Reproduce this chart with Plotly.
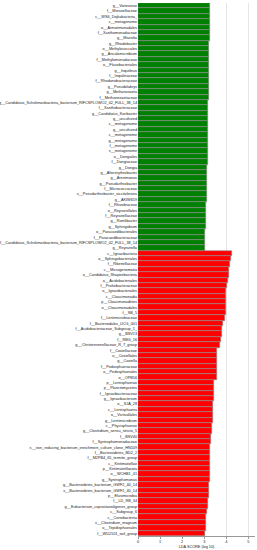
import plotly.graph_objects as go

green_labels = [
    "g__Variovorax", "f__Moraxellaceae", "c__WS6_Dojkabacteria_", "c__metagenome",
    "o__Armatimonadales", "f__Xanthomonadaceae", "g__Massilia", "g__Rhodobacter",
    "o__Methylococcales", "g__Ancalomicrobium", "f__Methylomonadaceae", "o__Flavobacteriales",
    "g__Inquilinus", "f__Inquilinaceae", "f__Rhodanobacteraceae", "g__Pseudolabrys",
    "g__Methanosaeta", "f__Methanosaetaceae",
    "g__Candidatus_Schekmanbacteria_bacterium_RIFCSPLOWO2_02_FULL_38_14",
    "f__Xanthobacteraceae", "g__Candidatus_Koribacter", "g__uncultured", "c__metagenome",
    "g__uncultured", "c__metagenome", "g__metagenome", "f__metagenome", "s__metagenome",
    "o__Dongiales", "f__Dongiaceae", "g__Dongia", "g__Altererythrobacter", "g__Arenimonas",
    "g__Pseudarthrobacter", "f__Micrococcaceae", "s__Pseudarthrobacter_siccitolerans",
    "g__AKIW659", "f__Rhizobiaceae", "o__Reyranellales", "f__Reyranellaceae",
    "g__Ramlibacter", "g__Sphingobium", "o__Paracaedibacterales", "f__Paracaedibacteraceae",
    "f__Candidatus_Schekmanbacteria_bacterium_RIFCSPLOWO2_02_FULL_38_14", "g__Reyranella",
]
green_values = [
    3.27, 3.26, 3.26, 3.25, 3.25, 3.24, 3.24, 3.23, 3.22, 3.22, 3.21, 3.21,
    3.21, 3.21, 3.20, 3.20, 3.20, 3.20, 3.19, 3.19, 3.18, 3.18, 3.17, 3.17,
    3.16, 3.16, 3.16, 3.15, 3.15, 3.15, 3.14, 3.14, 3.14, 3.13, 3.13, 3.13,
    3.12, 3.10, 3.08, 3.08, 3.07, 3.07, 3.02, 3.02, 3.02, 3.02,
]

red_labels = [
    "c__Ignavibacteria", "o__Sphingobacteriales", "f__Rikenellaceae", "c__Microgenomatia",
    "o__Candidatus_Shapirobacteria", "o__Acidobacteriales", "f__Prolixibacteraceae",
    "o__Ignavibacteriales", "c__Cloacimonadia", "p__Cloacimonadetes", "o__Cloacimonadales",
    "f__SB_5", "f__Lentimicrobiaceae", "f__Bacteroidales_UCG_001",
    "f__Acidobacteriaceae_Subgroup_1_", "g__BSV13", "f__RBG_16",
    "g__Christensenellaceae_R_7_group", "f__Coxiellaceae", "o__Coxiellales", "g__Coxiella",
    "f__Pedosphaeraceae", "o__Pedosphaerales", "o__OPB56", "p__Lentisphaerae",
    "p__Planctomycetes", "f__Ignavibacteriaceae", "g__Ignavibacterium", "o__SJA_28",
    "c__Lentisphaeria", "o__Victivallales", "g__Lentimicrobium", "c__Phycisphaerae",
    "g__Clostridium_sensu_stricto_5", "f__BSV40", "f__Syntrophomonadaceae",
    "s__iron_reducing_bacterium_enrichment_culture_clone_HN109", "f__Bacteroidetes_BD2_2",
    "f__M2PB4_65_termite_group", "c__Kiritimatiellae", "p__Kiritimatiellaeota",
    "o__WCHB1_41", "g__Syntrophomonas", "g__Bacteroidetes_bacterium_GWF2_40_14",
    "s__Bacteroidetes_bacterium_GWF2_40_14", "p__Elusimicrobia", "f__LD_RB_34",
    "g__Eubacterium_coprostanoligenes_group", "c__Subgroup_6", "c__Coriobacteriia",
    "s__Clostridium_magnum", "o__Tepidisphaerales", "f__WD2101_soil_group",
]
red_values = [
    4.28, 4.22, 4.17, 4.13, 4.10, 4.08, 4.02, 4.00, 3.99, 3.99, 3.99, 3.98, 3.94,
    3.84, 3.81, 3.79, 3.75, 3.73, 3.59, 3.59, 3.59, 3.59, 3.59, 3.58, 3.46, 3.44,
    3.44, 3.45, 3.41, 3.41, 3.41, 3.39, 3.36, 3.33, 3.32, 3.30, 3.26, 3.24, 3.24,
    3.24, 3.24, 3.24, 3.24, 3.21, 3.21, 3.20, 3.15, 3.15, 3.13, 3.10, 3.07, 3.07, 3.04,
]

x_ticks = [0, 1, 2, 3, 4, 5]
x_title = "LDA SCORE (log 10)"

all_labels = green_labels + red_labels
green_pos = list(range(len(green_labels)))
red_pos = list(range(len(green_labels), len(all_labels)))

fig = go.Figure()
fig.add_trace(go.Bar(
    x=green_values, y=green_pos, orientation="h",
    marker=dict(color="#008000", line=dict(color="#8c8c8c", width=0.6)),
    showlegend=False,
))
fig.add_trace(go.Bar(
    x=red_values, y=red_pos, orientation="h",
    marker=dict(color="#FF0000", line=dict(color="#8c8c8c", width=0.6)),
    showlegend=False,
))

fig.update_layout(
    width=257, height=550,
    margin=dict(l=138, r=2, t=3, b=14),
    paper_bgcolor="white", plot_bgcolor="white",
    bargap=0,
    font=dict(family="Liberation Sans, Arial, sans-serif", size=3.8, color="#222222"),
)
fig.update_xaxes(
    range=[0, 5.3], tickvals=x_ticks, ticktext=[str(t) for t in x_ticks],
    showgrid=True, gridcolor="#e6e6e6", gridwidth=0.6,
    showline=True, linecolor="#999999", linewidth=0.6,
    ticks="outside", ticklen=2, tickcolor="#999999", tickwidth=0.6,
    tickfont=dict(size=3.8), zeroline=False,
    title=dict(text=x_title, font=dict(size=3.8), standoff=1),
)
fig.update_yaxes(
    range=[len(all_labels) - 0.5, -0.5], tickvals=list(range(len(all_labels))),
    ticktext=all_labels, tickfont=dict(size=3.8), showgrid=False,
    showline=False, ticks="", automargin=False, zeroline=False,
)

fig.write_html(
    "out.html",
    config={"displayModeBar": False},
    post_script="document.body.style.margin='0';",
)
